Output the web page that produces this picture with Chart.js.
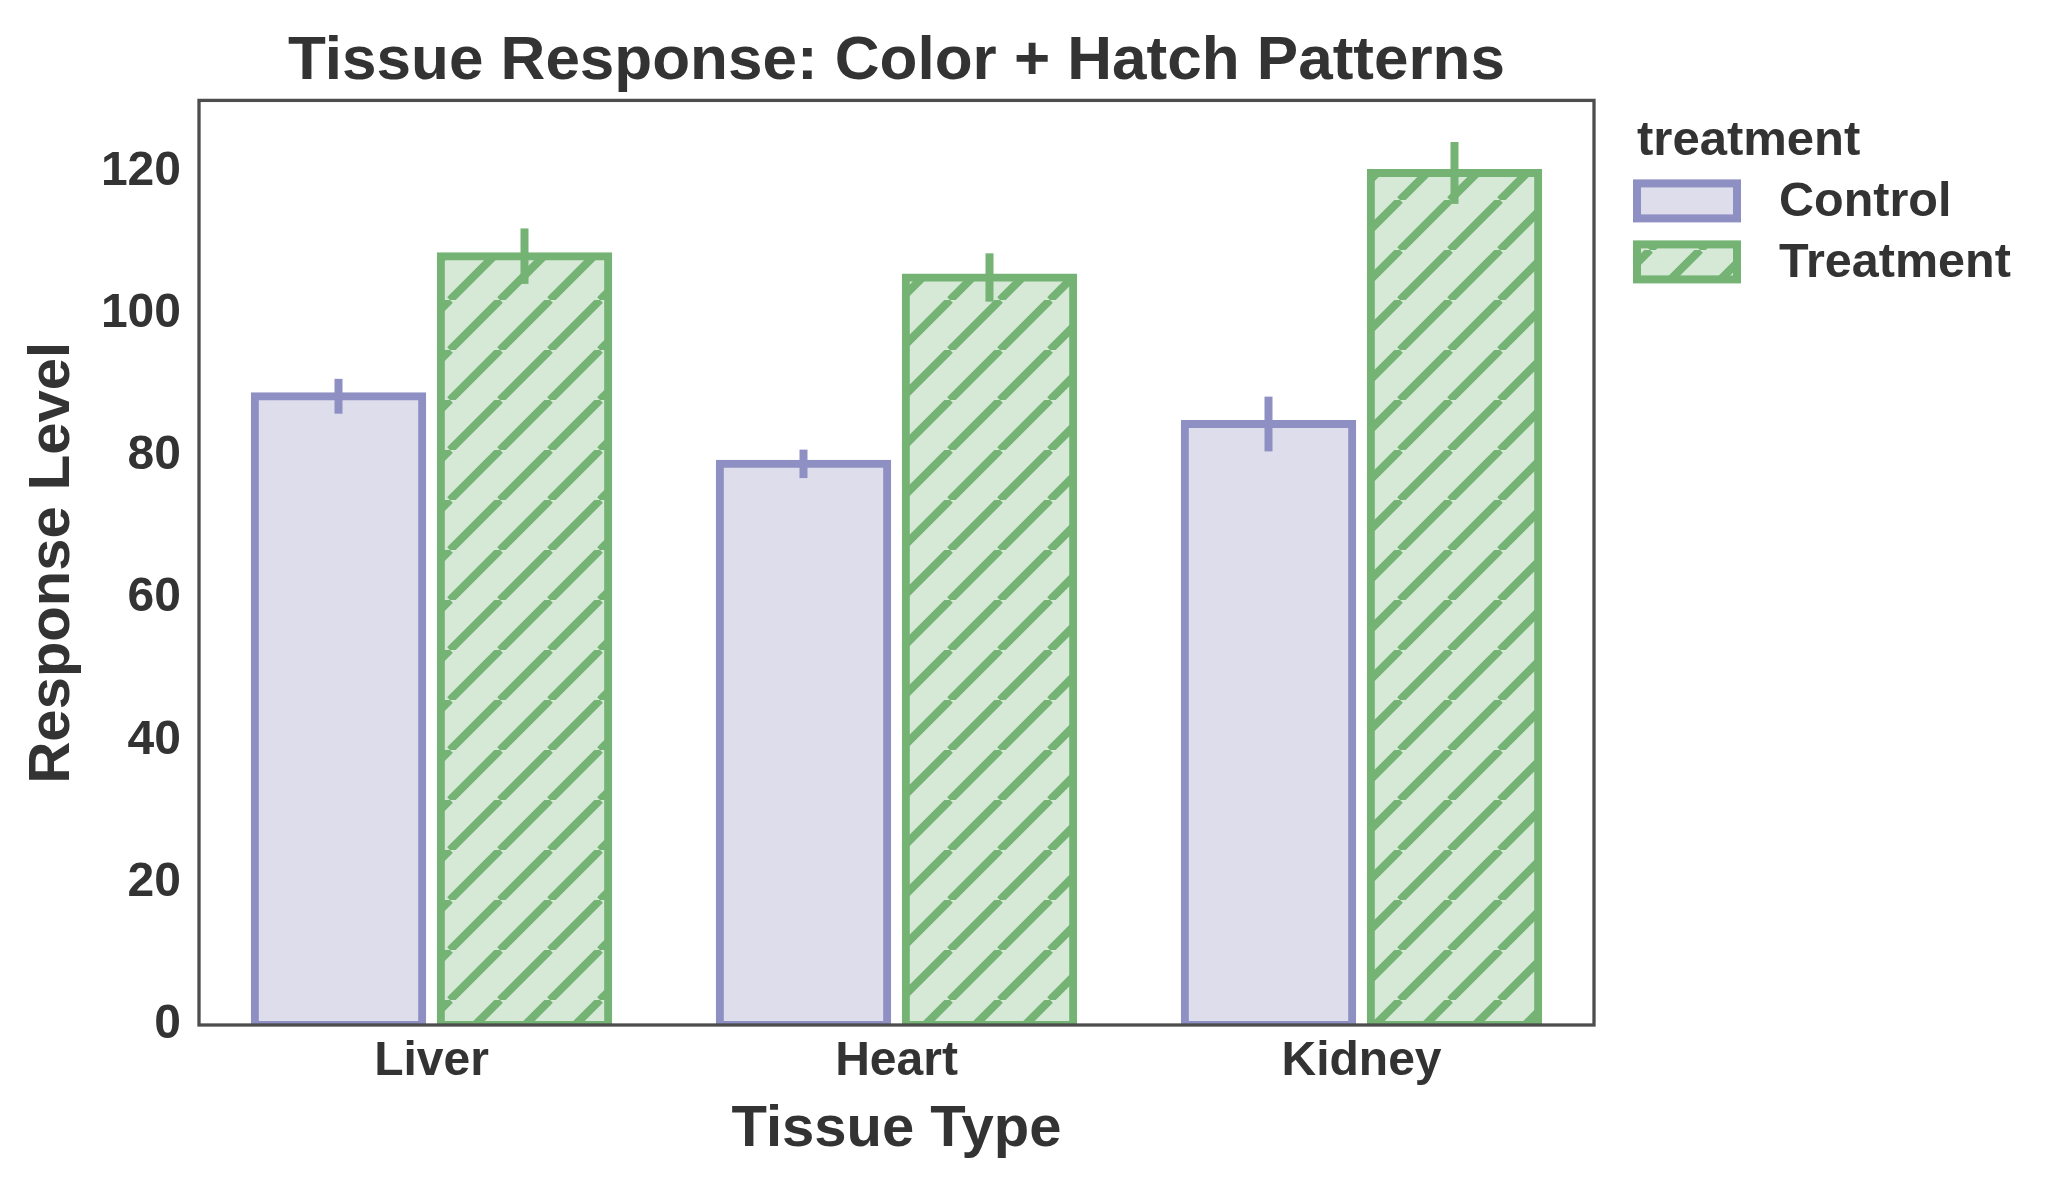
<!DOCTYPE html>
<html lang="en">
<head>
    <meta charset="UTF-8">
    <meta name="viewport" content="width=device-width, initial-scale=1.0">
    <title>Tissue Response: Color + Hatch Patterns</title>
    <script src="https://cdnjs.cloudflare.com/ajax/libs/chart.js/4.4.1/chart.umd.min.js"></script>
    <style>
        html, body {
            margin: 0;
            padding: 0;
            background-color: #ffffff;
        }

        .canvas-container {
            position: relative;
            width: 2066px;
            height: 1187px;
        }
    </style>
</head>
<body>
    <div class="canvas-container">
        <canvas id="tissueChart"></canvas>
    </div>

    <script>
        // Data
        const tissues = ['Liver', 'Heart', 'Kidney'];
        const controlMeans = [88.4, 78.9, 84.5];
        const controlErrors = [2.45, 2.0, 3.85];
        const treatmentMeans = [108.1, 105.1, 119.8];
        const treatmentErrors = [3.9, 3.4, 4.35];
        const yTicks = [0, 20, 40, 60, 80, 100, 120];
        const legendTitle = 'treatment';

        const FONT = '"Liberation Sans", Arial, Helvetica, sans-serif';
        const TEXT = '#333333';

        // Diagonal "/" hatch on a light fill
        function makeHatch(fill, line) {
            const size = 50;
            const c = document.createElement('canvas');
            c.width = size;
            c.height = size;
            const g = c.getContext('2d');
            g.fillStyle = fill;
            g.fillRect(0, 0, size, size);
            g.strokeStyle = line;
            g.lineWidth = 8;
            g.beginPath();
            [-size, 0, size].forEach(o => {
                g.moveTo(o, size);
                g.lineTo(o + size, 0);
            });
            g.stroke();
            return g.createPattern(c, 'repeat');
        }

        // Error bars drawn at each bar's centre through the y scale
        const errorBars = {
            id: 'errorBars',
            afterDatasetsDraw(chart) {
                const ctx = chart.ctx;
                const y = chart.scales.y;
                chart.data.datasets.forEach((ds, i) => {
                    const meta = chart.getDatasetMeta(i);
                    ctx.save();
                    ctx.strokeStyle = ds.borderColor;
                    ctx.lineWidth = 8;
                    meta.data.forEach((bar, j) => {
                        const v = ds.data[j];
                        const e = ds.errors[j];
                        ctx.beginPath();
                        ctx.moveTo(bar.x, y.getPixelForValue(v - e));
                        ctx.lineTo(bar.x, y.getPixelForValue(v + e));
                        ctx.stroke();
                    });
                    ctx.restore();
                });
            }
        };

        // Box round the plot area
        const frame = {
            id: 'frame',
            afterDatasetsDraw(chart) {
                const { ctx, chartArea: a } = chart;
                ctx.save();
                ctx.strokeStyle = '#4d4d4d';
                ctx.lineWidth = 3.3;
                ctx.strokeRect(a.left, a.top, a.right - a.left, a.bottom - a.top);
                ctx.restore();
            }
        };

        // Legend to the right of the axes, like seaborn's
        const sideLegend = {
            id: 'sideLegend',
            afterDraw(chart) {
                const { ctx, chartArea: a } = chart;
                const x0 = a.right + 39;
                ctx.save();
                ctx.textBaseline = 'middle';
                ctx.textAlign = 'left';
                ctx.fillStyle = TEXT;
                ctx.font = 'bold 49px ' + FONT;
                ctx.fillText(legendTitle, x0 + 4, a.top + 41);
                chart.data.datasets.forEach((ds, i) => {
                    const top = a.top + 79 + i * 61;
                    ctx.fillStyle = ds.borderColor;
                    ctx.fillRect(x0, top, 108, 43);
                    ctx.fillStyle = ds.backgroundColor;
                    ctx.fillRect(x0 + 8, top + 8, 92, 27);
                    ctx.fillStyle = TEXT;
                    ctx.font = 'bold 48.5px ' + FONT;
                    ctx.fillText(ds.label, x0 + 146, top + 23);
                });
                ctx.restore();
            }
        };

        function createChart() {
            const ctx = document.getElementById('tissueChart').getContext('2d');
            new Chart(ctx, {
                type: 'bar',
                data: {
                    labels: tissues,
                    datasets: [
                        {
                            label: 'Control',
                            data: controlMeans,
                            errors: controlErrors,
                            backgroundColor: '#ddddec',
                            borderColor: '#8e8fc2',
                            borderWidth: 8,
                            borderSkipped: false,
                            inflateAmount: 4,
                            clip: 0,
                            categoryPercentage: 0.8,
                            barPercentage: 0.9
                        },
                        {
                            label: 'Treatment',
                            data: treatmentMeans,
                            errors: treatmentErrors,
                            backgroundColor: makeHatch('#d6e8d6', '#74b374'),
                            borderColor: '#74b374',
                            borderWidth: 8,
                            borderSkipped: false,
                            inflateAmount: 4,
                            clip: 0,
                            categoryPercentage: 0.8,
                            barPercentage: 0.9
                        }
                    ]
                },
                options: {
                    responsive: true,
                    maintainAspectRatio: false,
                    animation: false,
                    layout: {
                        padding: { left: 0, right: 472, top: 0, bottom: 0 }
                    },
                    plugins: {
                        legend: { display: false },
                        tooltip: { enabled: false },
                        title: {
                            display: true,
                            fullSize: false,
                            text: 'Tissue Response: Color + Hatch Patterns',
                            color: TEXT,
                            font: { family: FONT, size: 62, weight: 'bold' },
                            padding: { top: 25, bottom: 1 }
                        }
                    },
                    scales: {
                        x: {
                            grid: { display: false, drawTicks: false },
                            border: { display: false },
                            ticks: {
                                color: TEXT,
                                padding: 8,
                                font: { family: FONT, size: 48, weight: 'bold' }
                            },
                            title: {
                                display: true,
                                text: 'Tissue Type',
                                color: TEXT,
                                font: { family: FONT, size: 58, weight: 'bold' },
                                padding: { top: 0, bottom: 22 }
                            },
                            afterFit(scale) {
                                scale.height = 162;
                            }
                        },
                        y: {
                            min: 0,
                            max: 130,
                            grid: { display: false, drawTicks: false },
                            border: { display: false },
                            afterBuildTicks(scale) {
                                scale.ticks = yTicks.map(v => ({ value: v }));
                            },
                            ticks: {
                                color: TEXT,
                                padding: 18,
                                font: { family: FONT, size: 48, weight: 'bold' }
                            },
                            title: {
                                display: true,
                                text: 'Response Level',
                                color: TEXT,
                                font: { family: FONT, size: 58, weight: 'bold' },
                                padding: { top: 18, bottom: 0 }
                            },
                            afterFit(scale) {
                                scale.width = 199;
                            }
                        }
                    }
                },
                plugins: [errorBars, frame, sideLegend]
            });
        }

        window.onload = createChart;
    </script>
</body>
</html>
